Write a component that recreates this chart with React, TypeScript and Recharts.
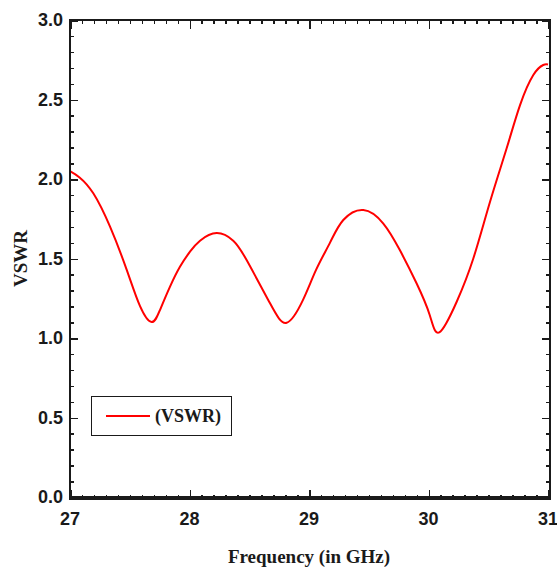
import { LineChart, Line, XAxis, YAxis } from 'recharts';

const freq = [
  27.0, 27.08, 27.195, 27.335, 27.474, 27.586, 27.683, 27.753, 27.837, 27.92,
  28.004, 28.088, 28.228, 28.366, 28.478, 28.674, 28.813, 28.95, 29.06, 29.176,
  29.287, 29.455, 29.622, 29.76, 29.9, 30.01, 30.09, 30.236, 30.375, 30.515,
  30.654, 30.766, 30.877, 30.96, 31.0,
];
const vswr = [
  2.05, 2.01, 1.91, 1.7, 1.43, 1.2, 1.1, 1.176, 1.323, 1.448,
  1.543, 1.612, 1.66, 1.612, 1.49, 1.218, 1.096, 1.24, 1.43, 1.6,
  1.742, 1.805, 1.72, 1.553, 1.344, 1.145, 1.035, 1.228, 1.5, 1.857,
  2.193, 2.465, 2.654, 2.717, 2.72,
];
const xMajor = [27, 28, 29, 30, 31];
const yMajor = [0, 0.5, 1.0, 1.5, 2.0, 2.5, 3.0];
const seriesName = '(VSWR)';

const data = freq.map((f, i) => ({ f, v: vswr[i] }));

const xDomain = [27, 31];
const yDomain = [0, 3];

// minor tick positions (every 0.1)
const xTicks: number[] = [];
for (let i = 0; i <= 40; i++) xTicks.push(+(27 + i * 0.1).toFixed(2));
const yTicks: number[] = [];
for (let i = 0; i <= 30; i++) yTicks.push(+(i * 0.1).toFixed(2));

// layout
const W = 557;
const H = 576;
const margin = { top: 20, right: 9, left: 0, bottom: 0 };
const xAxisH = 79;
const yAxisW = 70;
const plotW = W - margin.left - margin.right - yAxisW;
const plotH = H - margin.top - margin.bottom - xAxisH;

const isMajor = (v: number, list: number[]) => list.some((m) => Math.abs(m - v) < 1e-6);

const tickFont = "'Liberation Sans Narrow', 'Arial Narrow', 'Liberation Sans', sans-serif";
const titleFont = "'Liberation Serif', 'Times New Roman', serif";
const ink = '#1a1a1a';

function XTick({ x, y, payload }: any) {
  if (!isMajor(payload.value, xMajor)) return <g />;
  return (
    <text x={x} y={y + 28} textAnchor="middle" fontFamily={tickFont} fontWeight="bold" fontSize={18} fill={ink}>
      {payload.value}
    </text>
  );
}

function YTick({ x, y, payload }: any) {
  if (!isMajor(payload.value, yMajor)) return <g />;
  return (
    <text x={x - 7} y={y + 6} textAnchor="end" fontFamily={tickFont} fontWeight="bold" fontSize={18} fill={ink}>
      {payload.value.toFixed(1)}
    </text>
  );
}

// frame box with inward ticks on all four sides, laid over the plot area
function Frame() {
  const fx = (v: number) => ((v - xDomain[0]) / (xDomain[1] - xDomain[0])) * plotW;
  const fy = (v: number) => plotH - ((v - yDomain[0]) / (yDomain[1] - yDomain[0])) * plotH;
  const mark = (style: any, key: string) => (
    <div key={key} style={{ position: 'absolute', background: ink, ...style }} />
  );
  return (
    <div
      style={{
        position: 'absolute', left: margin.left + yAxisW - 1, top: margin.top - 1,
        width: plotW, height: plotH, border: `2px solid ${ink}`, pointerEvents: 'none',
      }}
    >
      {xTicks.map((v) => {
        const len = isMajor(v, xMajor) ? 9 : 4;
        const left = fx(v) - 1;
        return [
          mark({ left, top: -1, width: 1.5, height: len }, `t${v}`),
          mark({ left, bottom: -1, width: 1.5, height: len }, `b${v}`),
        ];
      })}
      {yTicks.map((v) => {
        const len = isMajor(v, yMajor) ? 8 : 4;
        const top = fy(v) - 1;
        return [
          mark({ top, left: -1, height: 1.5, width: len }, `l${v}`),
          mark({ top, right: -1, height: 1.5, width: len }, `r${v}`),
        ];
      })}
    </div>
  );
}

export default function App() {
  return (
    <div style={{ position: 'absolute', left: 0, top: 0, width: W, height: H, background: '#fff' }}>
      <LineChart width={W} height={H} data={data} margin={margin}>
        <XAxis
          dataKey="f" type="number" domain={xDomain} ticks={xTicks} interval={0}
          height={xAxisH} tickSize={0} tickMargin={0} tickLine={false} tick={<XTick />}
          axisLine={{ stroke: ink, strokeWidth: 2 }}
          label={({ viewBox }: any) => (
            <text x={viewBox.x + viewBox.width / 2} y={viewBox.y + 66} textAnchor="middle"
              fontFamily={titleFont} fontWeight="bold" fontSize={19} fill={ink}>
              Frequency (in GHz)
            </text>
          )}
        />
        <YAxis
          type="number" domain={yDomain} ticks={yTicks} interval={0}
          width={yAxisW} tickSize={0} tickMargin={0} tickLine={false} tick={<YTick />}
          axisLine={{ stroke: ink, strokeWidth: 2 }}
          label={({ viewBox }: any) => {
            const cx = viewBox.x + 20;
            const cy = viewBox.y + viewBox.height / 2;
            return (
              <text x={cx} y={cy} transform={`rotate(-90 ${cx} ${cy})`} textAnchor="middle" dominantBaseline="central"
                fontFamily={titleFont} fontWeight="bold" fontSize={19} fill={ink}>
                VSWR
              </text>
            );
          }}
        />
        <Line
          type="natural" dataKey="v" name={seriesName} stroke="#ff0000" strokeWidth={2}
          dot={false} isAnimationActive={false}
        />
      </LineChart>
      <Frame />
      <div
        style={{
          position: 'absolute', left: 91, top: 396, width: 139, height: 38,
          border: `1.5px solid ${ink}`, display: 'flex', alignItems: 'center', boxSizing: 'content-box',
        }}
      >
        <div style={{ marginLeft: 14, width: 44, height: 2, background: '#ff0000' }} />
        <span style={{ marginLeft: 5, fontFamily: titleFont, fontWeight: 'bold', fontSize: 18, color: ink }}>
          {seriesName}
        </span>
      </div>
    </div>
  );
}
